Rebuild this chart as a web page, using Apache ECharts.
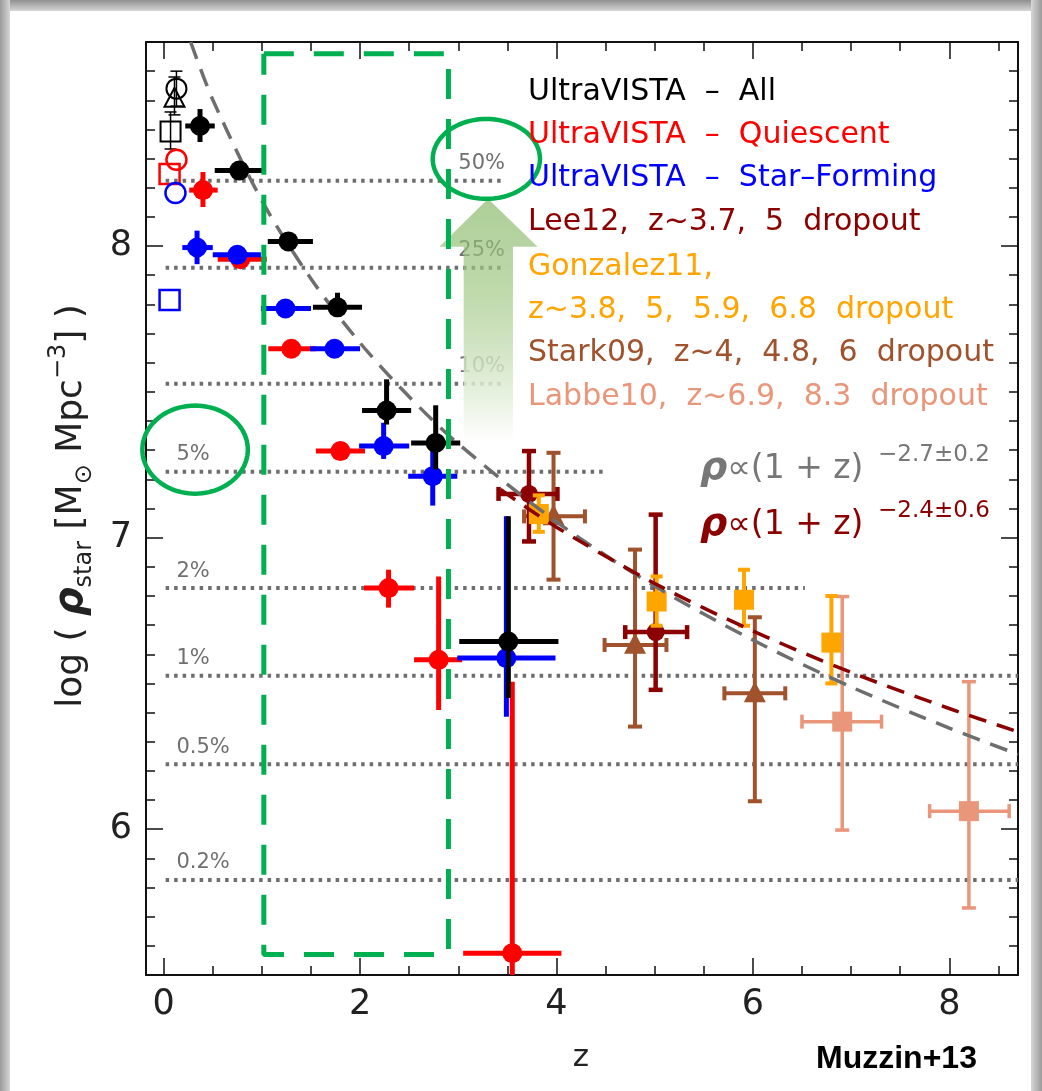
<!DOCTYPE html>
<html><head><meta charset="utf-8">
<script src="https://cdn.jsdelivr.net/npm/echarts@6/dist/echarts.min.js"></script>
<style>html,body{margin:0;padding:0;background:#fff}#c{width:1042px;height:1091px}</style>
</head><body><div id="c"></div>
<script>
// ---------------- DATA ----------------
const xMajorTicks = [0, 2, 4, 6, 8];
const yMajorTicks = [6, 7, 8];
const xTickLabels = ['0', '2', '4', '6', '8'];

// UltraVISTA - All
const allZ   = [0.37, 0.77, 1.27, 1.77, 2.27, 2.77, 3.51];
const allZlo = [0.22, 0.52, 1.06, 1.52, 2.02, 2.52, 3.01];
const allZhi = [0.52, 1.03, 1.52, 2.02, 2.52, 3.02, 4.02];
const allRho = [8.412, 8.259, 8.016, 7.790, 7.436, 7.325, 6.644];
const allRlo = [8.357, 8.240, 7.998, 7.765, 7.388, 7.234, 6.450];
const allRhi = [8.470, 8.278, 8.034, 7.840, 7.543, 7.454, 7.073];

// UltraVISTA - Quiescent
const qZ   = [0.40, 0.78, 1.30, 1.80, 2.29, 2.80, 3.55];
const qZlo = [0.26, 0.55, 1.065, 1.55, 2.04, 2.55, 3.05];
const qZhi = [0.55, 1.05, 1.55, 2.05, 2.55, 3.04, 4.05];
const qRho = [8.192, 7.955, 7.648, 7.297, 6.827, 6.581, 5.575];
const qRlo = [8.134, 7.935, 7.632, 7.282, 6.760, 6.409, 5.300];
const qRhi = [8.254, 7.975, 7.664, 7.312, 6.890, 6.867, 6.506];

// UltraVISTA - Star-Forming
const sfZ   = [0.34, 0.75, 1.24, 1.74, 2.24, 2.74, 3.49];
const sfZlo = [0.19, 0.50, 0.99, 1.49, 1.99, 2.49, 2.99];
const sfZhi = [0.50, 0.99, 1.50, 2.00, 2.50, 2.99, 3.99];
const sfRho = [7.995, 7.970, 7.786, 7.648, 7.314, 7.211, 6.587];
const sfRlo = [7.938, 7.955, 7.772, 7.635, 7.270, 7.110, 6.386];
const sfRhi = [8.053, 7.985, 7.800, 7.662, 7.394, 7.300, 7.073];

// Local (z~0.1) open symbols
const openBlackZ   = [0.13, 0.11, 0.07];
const openBlackRho = [8.540, 8.505, 8.393];
const openBlackRlo = [8.480, 8.450, 8.333];
const openBlackRhi = [8.600, 8.580, 8.460];
const openBlackSym = ['circle', 'triangle', 'square'];
const openRedZ   = [0.13, 0.06];
const openRedRho = [8.296, 8.247];
const openRedSym = ['circle', 'square'];
const openBlueZ   = [0.12, 0.06];
const openBlueRho = [8.182, 7.815];
const openBlueSym = ['circle', 'square'];

// Lee12
const leeZ   = [3.72, 5.01];
const leeZlo = [3.41, 4.70];
const leeZhi = [4.01, 5.33];
const leeRho = [7.150, 6.676];
const leeRlo = [6.987, 6.478];
const leeRhi = [7.297, 7.079];

// Gonzalez11
const gonZ   = [3.82, 5.02, 5.91, 6.80];
const gonRho = [7.081, 6.781, 6.787, 6.640];
const gonRlo = [7.020, 6.698, 6.698, 6.500];
const gonRhi = [7.145, 6.867, 6.890, 6.800];

// Stark09
const starkZ   = [3.97, 4.80, 6.02];
const starkZlo = [3.67, 4.49, 5.71];
const starkZhi = [4.29, 5.12, 6.33];
const starkRho = [7.073, 6.632, 6.466];
const starkRlo = [6.856, 6.352, 6.096];
const starkRhi = [7.291, 6.959, 6.727];

// Labbe10
const labZ   = [6.91, 8.20];
const labZlo = [6.50, 7.80];
const labZhi = [7.31, 8.61];
const labRho = [6.369, 6.062];
const labRlo = [5.997, 5.730];
const labRhi = [6.798, 6.506];

// Fit curves
const fitAllZ   = [0.275, 0.5, 1, 1.5, 2, 2.5, 3, 4, 5, 6, 7, 8, 8.7];
const fitAllRho = [8.700, 8.502, 8.156, 7.888, 7.668, 7.483, 7.322, 7.054, 6.834, 6.649, 6.488, 6.347, 6.257];
const fitLitZ   = [3.43, 4, 5, 6, 7, 8, 8.7];
const fitLitRho = [7.165, 7.036, 6.843, 6.680, 6.538, 6.414, 6.334];

// Percentage reference levels
const pctLabels = ['50%', '25%', '10%', '5%', '2%', '1%', '0.5%', '0.2%'];
const pctLevels = [8.224, 7.926, 7.528, 7.226, 6.827, 6.526, 6.223, 5.826];
const pctEndZ   = [3.48, 3.48, 3.48, 4.51, 6.53, 8.70, 8.70, 8.70];

const legendTexts = [
  'UltraVISTA  –  All',
  'UltraVISTA  –  Quiescent',
  'UltraVISTA  –  Star–Forming',
  'Lee12,  z~3.7,  5  dropout',
  'Gonzalez11,',
  'z~3.8,  5,  5.9,  6.8  dropout',
  'Stark09,  z~4,  4.8,  6  dropout',
  'Labbe10,  z~6.9,  8.3  dropout'
];

// ---------------- LAYOUT / STYLE ----------------
const X_MIN = -0.18, X_MAX = 8.70, Y_MIN = 5.50, Y_MAX = 8.70;
const GREEN = '#00B050';
const legendColors = ['#000000', '#FF0000', '#0000FF', '#8B0000', '#FFA500', '#FFA500', '#A0522D', '#E9967A'];
const legendY = [92, 135, 178, 222, 267, 310, 353, 397];
const pctLabelZ = [3.00, 3.00, 3.00, 0.13, 0.13, 0.13, 0.13, 0.13];
const annot = {
  box: [[1.02, 8.66], [2.90, 8.66], [2.90, 5.57], [1.02, 5.57], [1.02, 8.66]],
  ellipses: [{c: [3.286, 8.299], rx: 0.546, ry: 0.137}, {c: [0.32, 7.302], rx: 0.537, ry: 0.151}],
  arrow: [[3.303, 8.162], [3.808, 7.998], [3.557, 7.998], [3.557, 7.331], [3.055, 7.331], [3.055, 7.998], [2.808, 7.998]]
};

const xMinorTicks = []; for (let i = 0; i <= 17; i++) xMinorTicks.push(i * 0.5);
const yMinorTicks = []; for (let i = 56; i <= 87; i++) yMinorTicks.push(i / 10);

function markerEl(shape, c, s, color, open, mlw) {
  const style = open ? {fill: 'none', stroke: color, lineWidth: mlw} : {fill: color};
  if (shape === 'circle') return {type: 'circle', shape: {cx: c[0], cy: c[1], r: s}, style};
  if (shape === 'square') return {type: 'rect', shape: {x: c[0] - s, y: c[1] - s, width: 2 * s, height: 2 * s}, style};
  return {type: 'polygon', shape: {points: [[c[0], c[1] - s * 1.1], [c[0] + s, c[1] + s * 0.8], [c[0] - s, c[1] + s * 0.8]]}, style};
}

function errSeries(cfg) {
  return {
    type: 'custom', coordinateSystem: 'cartesian2d', xAxisIndex: 0, yAxisIndex: 0,
    clip: true, z: cfg.order, silent: true,
    encode: {x: 0, y: 1},
    data: cfg.z.map((v, i) => [v, cfg.r[i]]),
    renderItem: function (params, api) {
      const i = params.dataIndex;
      const z = cfg.z[i], r = cfg.r[i];
      const c = api.coord([z, r]);
      const kids = [];
      const seg = (x1, y1, x2, y2, w) => kids.push({type: 'line', shape: {x1, y1, x2, y2},
        style: {stroke: cfg.color, lineWidth: w || cfg.lw}});
      if (cfg.zlo) {
        const a = api.coord([cfg.zlo[i], r]), b = api.coord([cfg.zhi[i], r]);
        seg(a[0], a[1], b[0], b[1]);
        if (cfg.capH) { seg(a[0], a[1] - cfg.capH, a[0], a[1] + cfg.capH); seg(b[0], b[1] - cfg.capH, b[0], b[1] + cfg.capH); }
      }
      if (cfg.rlo) {
        const a = api.coord([z, cfg.rlo[i]]), b = api.coord([z, cfg.rhi[i]]);
        seg(a[0], a[1], b[0], b[1]);
        if (cfg.capV) { seg(a[0] - cfg.capV, a[1], a[0] + cfg.capV, a[1]); seg(b[0] - cfg.capV, b[1], b[0] + cfg.capV, b[1]); }
      }
      const shp = Array.isArray(cfg.marker) ? cfg.marker[i] : cfg.marker;
      kids.push(markerEl(shp, c, cfg.size, cfg.color, cfg.open, cfg.mlw || 2.5));
      return {type: 'group', children: kids};
    }
  };
}

const chart = echarts.init(document.getElementById('c'), null, {renderer: 'canvas'});

const axLine = {show: true, onZero: false, lineStyle: {color: '#111', width: 2}};
const tickStyle = {color: '#111', width: 1.5};
const xBase = {type: 'value', min: X_MIN, max: X_MAX, splitLine: {show: false}, gridIndex: 0};
const yBase = {type: 'value', min: Y_MIN, max: Y_MAX, splitLine: {show: false}, gridIndex: 0};
const tickFont = {fontSize: 35, fontFamily: 'DejaVu Sans', color: '#222'};

const series = [];

// percentage dotted lines + labels
series.push({
  type: 'custom', coordinateSystem: 'cartesian2d', clip: true, z: 1, silent: true,
  encode: {x: 0, y: 1},
  data: pctLevels.map((v, i) => [pctEndZ[i], v]),
  renderItem: function (params, api) {
    const i = params.dataIndex;
    const a = api.coord([0.02, pctLevels[i]]), b = api.coord([pctEndZ[i], pctLevels[i]]);
    const t = api.coord([pctLabelZ[i], pctLevels[i]]);
    return {type: 'group', children: [
      {type: 'line', shape: {x1: a[0], y1: a[1], x2: b[0], y2: b[1]},
        style: {stroke: '#6e6e6e', lineWidth: 4, lineDash: [3.5, 5]}},
      {type: 'text', x: t[0], y: t[1] - 17,
        style: {text: pctLabels[i], fill: '#707070', font: '21px "DejaVu Sans"', align: 'left', verticalAlign: 'middle'}}
    ]};
  }
});

// literature
series.push(errSeries({order: 5, z: starkZ, r: starkRho, zlo: starkZlo, zhi: starkZhi, rlo: starkRlo, rhi: starkRhi,
  color: '#A0522D', marker: 'triangle', size: 11, lw: 4, capH: 7, capV: 7}));
series.push(errSeries({order: 6, z: leeZ, r: leeRho, zlo: leeZlo, zhi: leeZhi, rlo: leeRlo, rhi: leeRhi,
  color: '#8B0000', marker: 'circle', size: 9, lw: 4.5, capH: 7, capV: 7}));
series.push(errSeries({order: 7, z: gonZ, r: gonRho, rlo: gonRlo, rhi: gonRhi,
  color: '#FFA500', marker: 'square', size: 10, lw: 4, capV: 6}));
series.push(errSeries({order: 5, z: labZ, r: labRho, zlo: labZlo, zhi: labZhi, rlo: labRlo, rhi: labRhi,
  color: '#E9967A', marker: 'square', size: 10, lw: 3.5, capH: 7, capV: 7}));

// fit lines
series.push({type: 'line', z: 8, silent: true, symbol: 'none', smooth: 0.3,
  data: fitAllZ.map((v, i) => [v, fitAllRho[i]]),
  lineStyle: {color: '#6e6e6e', width: 3.5, type: [18, 11]}});
series.push({type: 'line', z: 8, silent: true, symbol: 'none', smooth: 0.3,
  data: fitLitZ.map((v, i) => [v, fitLitRho[i]]),
  lineStyle: {color: '#8B0000', width: 3.5, type: [18, 11]}});

// UltraVISTA
series.push(errSeries({order: 9, z: qZ, r: qRho, zlo: qZlo, zhi: qZhi, rlo: qRlo, rhi: qRhi,
  color: '#FF0000', marker: 'circle', size: 10, lw: 5}));
series.push(errSeries({order: 10, z: sfZ, r: sfRho, zlo: sfZlo, zhi: sfZhi, rlo: sfRlo, rhi: sfRhi,
  color: '#0000FF', marker: 'circle', size: 10, lw: 5}));
series.push(errSeries({order: 11, z: allZ, r: allRho, zlo: allZlo, zhi: allZhi, rlo: allRlo, rhi: allRhi,
  color: '#000000', marker: 'circle', size: 10, lw: 5}));
series.push(errSeries({order: 11, z: openBlackZ, r: openBlackRho, rlo: openBlackRlo, rhi: openBlackRhi,
  color: '#000000', marker: openBlackSym, size: 10, lw: 1.5, capV: 6, open: true, mlw: 2}));
series.push(errSeries({order: 11, z: openRedZ, r: openRedRho,
  color: '#FF0000', marker: openRedSym, size: 10, lw: 2, open: true, mlw: 2.5}));
series.push(errSeries({order: 11, z: openBlueZ, r: openBlueRho,
  color: '#0000FF', marker: openBlueSym, size: 10, lw: 2, open: true, mlw: 2.5}));

// annotation arrow
series.push({
  type: 'custom', coordinateSystem: 'cartesian2d', clip: false, z: 20, silent: true,
  encode: {x: 0, y: 1}, data: [[annot.arrow[0][0], annot.arrow[0][1]]],
  renderItem: function (params, api) {
    const pts = annot.arrow.map(p => api.coord(p));
    return {type: 'polygon', shape: {points: pts}, style: {
      fill: new echarts.graphic.LinearGradient(0, 0, 0, 1, [
        {offset: 0, color: 'rgba(125,178,90,0.62)'},
        {offset: 0.45, color: 'rgba(175,208,150,0.75)'},
        {offset: 1, color: 'rgba(255,255,255,0.92)'}
      ])}};
  }
});
// annotation ellipses
series.push({
  type: 'custom', coordinateSystem: 'cartesian2d', clip: false, z: 21, silent: true,
  encode: {x: 0, y: 1}, data: annot.ellipses.map(e => e.c),
  renderItem: function (params, api) {
    const e = annot.ellipses[params.dataIndex];
    const c = api.coord(e.c);
    const rx = api.size([e.rx, 0])[0], ry = api.size([0, e.ry])[1];
    const pts = [];
    for (let k = 0; k < 96; k++) { const t = k / 96 * Math.PI * 2; pts.push([c[0] + rx * Math.cos(t), c[1] + ry * Math.sin(t)]); }
    return {type: 'polygon', shape: {points: pts}, style: {fill: 'none', stroke: GREEN, lineWidth: 4.5}};
  }
});
// annotation dashed box
series.push({type: 'line', z: 22, silent: true, symbol: 'none', clip: false,
  data: annot.box, lineStyle: {color: GREEN, width: 5, type: [30, 20]}});

// graphics: frame, texts
const graphics = [
  {type: 'rect', z: 0, shape: {x: 0, y: 0, width: 1042, height: 11},
    style: {fill: new echarts.graphic.LinearGradient(0, 0, 0, 1, [{offset: 0, color: '#8f8f8f'}, {offset: 1, color: '#d6d6d6'}])}},
  {type: 'rect', z: 0, shape: {x: 0, y: 0, width: 10, height: 1091},
    style: {fill: new echarts.graphic.LinearGradient(0, 0, 1, 0, [{offset: 0, color: '#9a9a9a'}, {offset: 1, color: '#d6d6d6'}])}},
  {type: 'rect', z: 0, shape: {x: 1031, y: 0, width: 11, height: 1091},
    style: {fill: new echarts.graphic.LinearGradient(0, 0, 1, 0, [{offset: 0, color: '#d6d6d6'}, {offset: 1, color: '#9a9a9a'}])}}
];
legendTexts.forEach((t, i) => graphics.push({type: 'text', z: 50, x: 528, y: legendY[i],
  style: {text: t, fill: legendColors[i], font: '30px "DejaVu Sans"', align: 'left', verticalAlign: 'middle'}}));

function formula(y, color, exp) {
  return {type: 'text', z: 50, x: 700, y: y, style: {
    text: '{r|ρ}{m|∝(1 + z)}{s|  ' + exp + '}', align: 'left', verticalAlign: 'middle',
    rich: {
      r: {fontSize: 38, fontStyle: 'italic', fontWeight: 'bold', fontFamily: 'DejaVu Sans', fill: color, lineHeight: 51},
      m: {fontSize: 33, fontFamily: 'DejaVu Sans', fill: color, lineHeight: 51},
      s: {fontSize: 23, fontFamily: 'DejaVu Sans', fill: color, lineHeight: 23, verticalAlign: 'top'}
    }}};
}
graphics.push(formula(469, '#777777', '−2.7±0.2'));
graphics.push(formula(525, '#8B0000', '−2.4±0.6'));

graphics.push({type: 'text', z: 50, x: 72, y: 506, rotation: Math.PI / 2, style: {
  text: '{a|log ( }{r|ρ}{b|star}{a| [M}{b|⊙}{a| Mpc}{c|−3}{a|] )}', align: 'center', verticalAlign: 'middle',
  rich: {
    a: {fontSize: 36, fontFamily: 'DejaVu Sans', fill: '#222', lineHeight: 50},
    r: {fontSize: 40, fontStyle: 'italic', fontWeight: 'bold', fontFamily: 'DejaVu Sans', fill: '#222', lineHeight: 50},
    b: {fontSize: 24, fontFamily: 'DejaVu Sans', fill: '#222', lineHeight: 24, verticalAlign: 'bottom'},
    c: {fontSize: 24, fontFamily: 'DejaVu Sans', fill: '#222', lineHeight: 24, verticalAlign: 'top'}
  }}});
graphics.push({type: 'text', z: 50, x: 581, y: 1058,
  style: {text: 'z', fill: '#222', font: '31px "DejaVu Sans"', align: 'center', verticalAlign: 'middle'}});
graphics.push({type: 'text', z: 50, x: 816, y: 1059,
  style: {text: 'Muzzin+13', fill: '#000', font: 'bold 32px "Liberation Sans"', align: 'left', verticalAlign: 'middle'}});

chart.setOption({
  animation: false,
  backgroundColor: '#ffffff',
  grid: {left: 146, right: 24, top: 42, bottom: 116, containLabel: false},
  xAxis: [
    Object.assign({}, xBase, {position: 'bottom', axisLine: axLine,
      axisTick: {show: true, inside: true, length: 17, customValues: xMajorTicks, lineStyle: tickStyle},
      axisLabel: Object.assign({show: true, margin: 12, customValues: xMajorTicks,
        formatter: v => xTickLabels[xMajorTicks.indexOf(v)]}, tickFont)}),
    Object.assign({}, xBase, {position: 'bottom', axisLine: {show: false, onZero: false},
      axisTick: {show: true, inside: true, length: 9, customValues: xMinorTicks, lineStyle: tickStyle},
      axisLabel: {show: false}}),
    Object.assign({}, xBase, {position: 'top', axisLine: axLine,
      axisTick: {show: true, inside: true, length: 17, customValues: xMajorTicks, lineStyle: tickStyle},
      axisLabel: {show: false}}),
    Object.assign({}, xBase, {position: 'top', axisLine: {show: false, onZero: false},
      axisTick: {show: true, inside: true, length: 9, customValues: xMinorTicks, lineStyle: tickStyle},
      axisLabel: {show: false}})
  ],
  yAxis: [
    Object.assign({}, yBase, {position: 'left', axisLine: axLine,
      axisTick: {show: true, inside: true, length: 17, customValues: yMajorTicks, lineStyle: tickStyle},
      axisLabel: Object.assign({show: true, margin: 14, customValues: yMajorTicks, formatter: v => String(v)}, tickFont)}),
    Object.assign({}, yBase, {position: 'left', axisLine: {show: false, onZero: false},
      axisTick: {show: true, inside: true, length: 9, customValues: yMinorTicks, lineStyle: tickStyle},
      axisLabel: {show: false}}),
    Object.assign({}, yBase, {position: 'right', axisLine: axLine,
      axisTick: {show: true, inside: true, length: 17, customValues: yMajorTicks, lineStyle: tickStyle},
      axisLabel: {show: false}}),
    Object.assign({}, yBase, {position: 'right', axisLine: {show: false, onZero: false},
      axisTick: {show: true, inside: true, length: 9, customValues: yMinorTicks, lineStyle: tickStyle},
      axisLabel: {show: false}})
  ],
  series: series,
  graphic: graphics
});
</script></body></html>
